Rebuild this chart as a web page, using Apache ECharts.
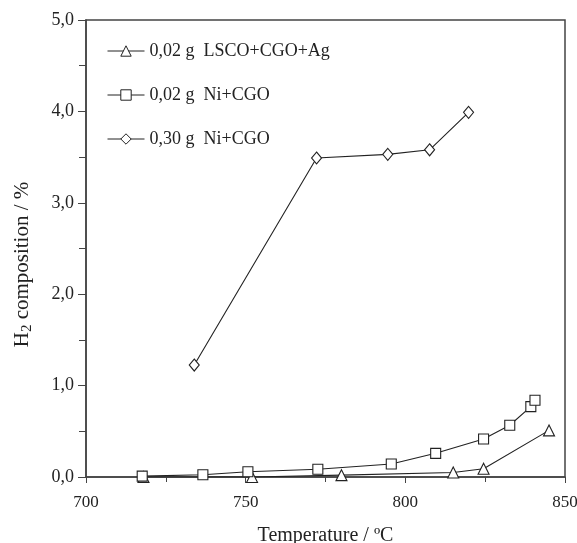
<!DOCTYPE html>
<html>
<head>
	<meta charset="UTF-8">
	<title>H2 composition</title>
	<script src="https://cdn.jsdelivr.net/npm/echarts@6/dist/echarts.min.js"></script>
	<style>
		html, body { margin: 0; padding: 0; background: #fff; }
		#chart { width: 577px; height: 543px; }
	</style>
</head>
<body>
<div id="chart"></div>
<script type="text/javascript">
	// data: [temperature ºC, H2 %]
	var lscoData = [[718, 0.0], [752, 0.0], [780, 0.02], [815, 0.05], [824.5, 0.09], [845, 0.51]];
	var ni002Data = [[717.6, 0.01], [736.6, 0.025], [750.7, 0.058], [772.6, 0.084], [795.6, 0.142],
		[809.5, 0.259], [824.5, 0.415], [832.7, 0.566], [839.3, 0.77], [840.6, 0.84]];
	var ni030Data = [[733.9, 1.225], [772.2, 3.49], [794.5, 3.53], [807.6, 3.58], [819.8, 3.99]];
	var seriesNames = ['0,02 g  LSCO+CGO+Ag', '0,02 g  Ni+CGO', '0,30 g  Ni+CGO'];

	var font = 'Liberation Serif';
	var ink = '#222';

	function lineSeries(name, data, symbol, size) {
		return {
			name: name,
			type: 'line',
			data: data,
			symbol: symbol,
			symbolSize: size,
			lineStyle: { color: ink, width: 1.1 },
			itemStyle: { color: '#fff', borderColor: ink, borderWidth: 1.1 },
			emphasis: { disabled: true }
		};
	}

	var chart = echarts.init(document.getElementById('chart'));
	var option = {
		animation: false,
		textStyle: { fontFamily: font },
		grid: {
			left: 86, right: 12, top: 20, bottom: 66,
			outerBoundsMode: 'none',
			show: true, borderColor: '#444', borderWidth: 1.5
		},
		legend: {
			orient: 'vertical',
			left: 107, top: 42, padding: 0,
			itemWidth: 37, itemHeight: 13, itemGap: 26,
			textStyle: { fontFamily: font, fontSize: 18, color: ink },
			itemStyle: { borderWidth: 1 },
			lineStyle: { width: 1 },
			data: seriesNames
		},
		xAxis: {
			type: 'value',
			min: 700, max: 850, interval: 50,
			name: 'Temperature / ºC',
			nameLocation: 'middle', nameGap: 49,
			nameTextStyle: { fontFamily: font, fontSize: 20, color: ink },
			axisLine: { lineStyle: { color: '#444', width: 1.5 } },
			axisTick: { length: 6, lineStyle: { color: '#444' } },
			minorTick: { show: true, splitNumber: 2, length: 5, lineStyle: { color: '#444' } },
			axisLabel: { fontFamily: font, fontSize: 17, color: ink, margin: 17 },
			splitLine: { show: false }
		},
		yAxis: {
			type: 'value',
			min: 0, max: 5, interval: 1,
			name: '{t|H}{s|2}{t| composition / %}',
			nameLocation: 'middle', nameGap: 51, nameRotate: 90,
			nameTextStyle: {
				padding: [0, 32, 0, 0],
				rich: {
					t: { fontFamily: font, fontSize: 21, color: ink },
					s: { fontFamily: font, fontSize: 15, color: ink, verticalAlign: 'bottom', padding: [10, 0, 0, 0] }
				}
			},
			axisLine: { lineStyle: { color: '#444', width: 1.5 } },
			axisTick: { length: 8, lineStyle: { color: '#444' } },
			minorTick: { show: true, splitNumber: 2, length: 7, lineStyle: { color: '#444' } },
			axisLabel: {
				fontFamily: font, fontSize: 18, color: ink, margin: 12,
				formatter: function (v) { return v.toFixed(1).replace('.', ','); }
			},
			splitLine: { show: false }
		},
		series: [
			lineSeries(seriesNames[0], lscoData, 'triangle', 11),
			lineSeries(seriesNames[1], ni002Data, 'rect', 10),
			lineSeries(seriesNames[2], ni030Data, 'diamond', [10, 12])
		]
	};
	chart.setOption(option);
</script>
</body>
</html>
